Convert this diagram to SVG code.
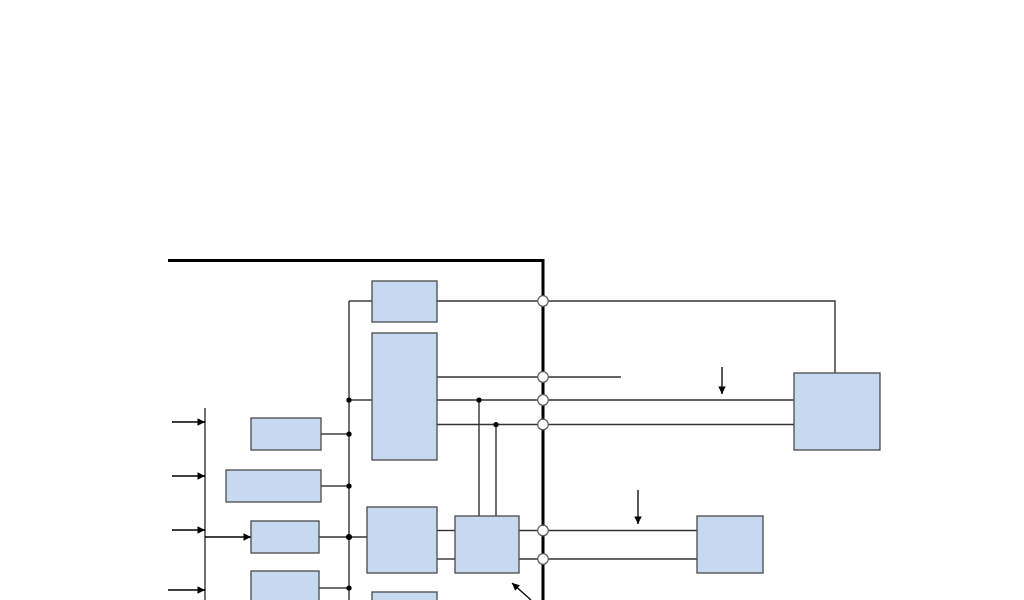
<svg xmlns="http://www.w3.org/2000/svg" width="1024" height="600" viewBox="0 0 1024 600">
<style>
.box{fill:#c6d9f0;stroke:#4a4a4a;stroke-width:1.3}
.ln{fill:none;stroke:#333;stroke-width:1.4}
.thick{fill:none;stroke:#000;stroke-width:3}
.port{fill:#fff;stroke:#555;stroke-width:1.2}
.dot{fill:#000}
.arr{fill:none;stroke:#000;stroke-width:1.3;marker-end:url(#ah)}
</style>
<defs>
<marker id="ah" viewBox="0 0 10 10" refX="10" refY="5" markerWidth="9" markerHeight="7.5" markerUnits="userSpaceOnUse" orient="auto">
<path d="M0,0 L10,5 L0,10 z" fill="#000"/>
</marker>
</defs>
<rect width="1024" height="600" fill="#fff"/>
<g id="connectors">
<path class="thick" d="M168,260.5 H543 V600"/>
<path class="ln" d="M205,408 V600"/>
<path class="ln" d="M349,301 V600"/>
<path class="ln" d="M349,301 H372"/>
<path class="ln" d="M437,301 H835 V373"/>
<path class="ln" d="M437,377 H621"/>
<path class="ln" d="M349,400 H372"/>
<path class="ln" d="M437,400 H794"/>
<path class="ln" d="M437,424.5 H794"/>
<path class="ln" d="M479,400 V516"/>
<path class="ln" d="M496,424.5 V516"/>
<path class="ln" d="M321,434 H349"/>
<path class="ln" d="M321,486 H349"/>
<path class="ln" d="M319,537 H367"/>
<path class="ln" d="M319,588 H349"/>
<path class="ln" d="M437,530.5 H455"/>
<path class="ln" d="M437,559 H455"/>
<path class="ln" d="M519,530.5 H697"/>
<path class="ln" d="M519,559 H697"/>
<path class="arr" d="M172,422 H205"/>
<path class="arr" d="M172,476 H205"/>
<path class="arr" d="M172,530 H205"/>
<path class="arr" d="M168,590 H205"/>
<path class="arr" d="M205,537 H251"/>
<path class="arr" d="M722,367 V394"/>
<path class="arr" d="M638,490 V524"/>
<path class="arr" d="M531,600 L512,583"/>
<circle class="dot" cx="349" cy="400" r="2.6"/>
<circle class="dot" cx="349" cy="434" r="2.6"/>
<circle class="dot" cx="349" cy="486" r="2.6"/>
<circle class="dot" cx="349" cy="537" r="3"/>
<circle class="dot" cx="349" cy="588" r="2.6"/>
<circle class="dot" cx="479" cy="400" r="2.6"/>
<circle class="dot" cx="496" cy="424.5" r="2.6"/>
<circle class="port" cx="543" cy="301" r="5.3"/>
<circle class="port" cx="543" cy="377" r="5.3"/>
<circle class="port" cx="543" cy="400" r="5.3"/>
<circle class="port" cx="543" cy="424.5" r="5.3"/>
<circle class="port" cx="543" cy="530.5" r="5.3"/>
<circle class="port" cx="543" cy="559" r="5.3"/>
</g>
<g id="boxA"><rect class="box" x="372" y="281" width="65" height="41"/></g>
<g id="boxB"><rect class="box" x="372" y="333" width="65" height="127"/></g>
<g id="boxC"><rect class="box" x="794" y="373" width="86" height="77"/></g>
<g id="boxL1"><rect class="box" x="251" y="418" width="70" height="32"/></g>
<g id="boxL2"><rect class="box" x="226" y="470" width="95" height="32"/></g>
<g id="boxL3"><rect class="box" x="251" y="521" width="68" height="32"/></g>
<g id="boxL4"><rect class="box" x="251" y="571" width="68" height="40"/></g>
<g id="boxD"><rect class="box" x="367" y="507" width="70" height="66"/></g>
<g id="boxE"><rect class="box" x="455" y="516" width="64" height="57"/></g>
<g id="boxF"><rect class="box" x="697" y="516" width="66" height="57"/></g>
<g id="boxG"><rect class="box" x="372" y="592" width="65" height="20"/></g>
</svg>
